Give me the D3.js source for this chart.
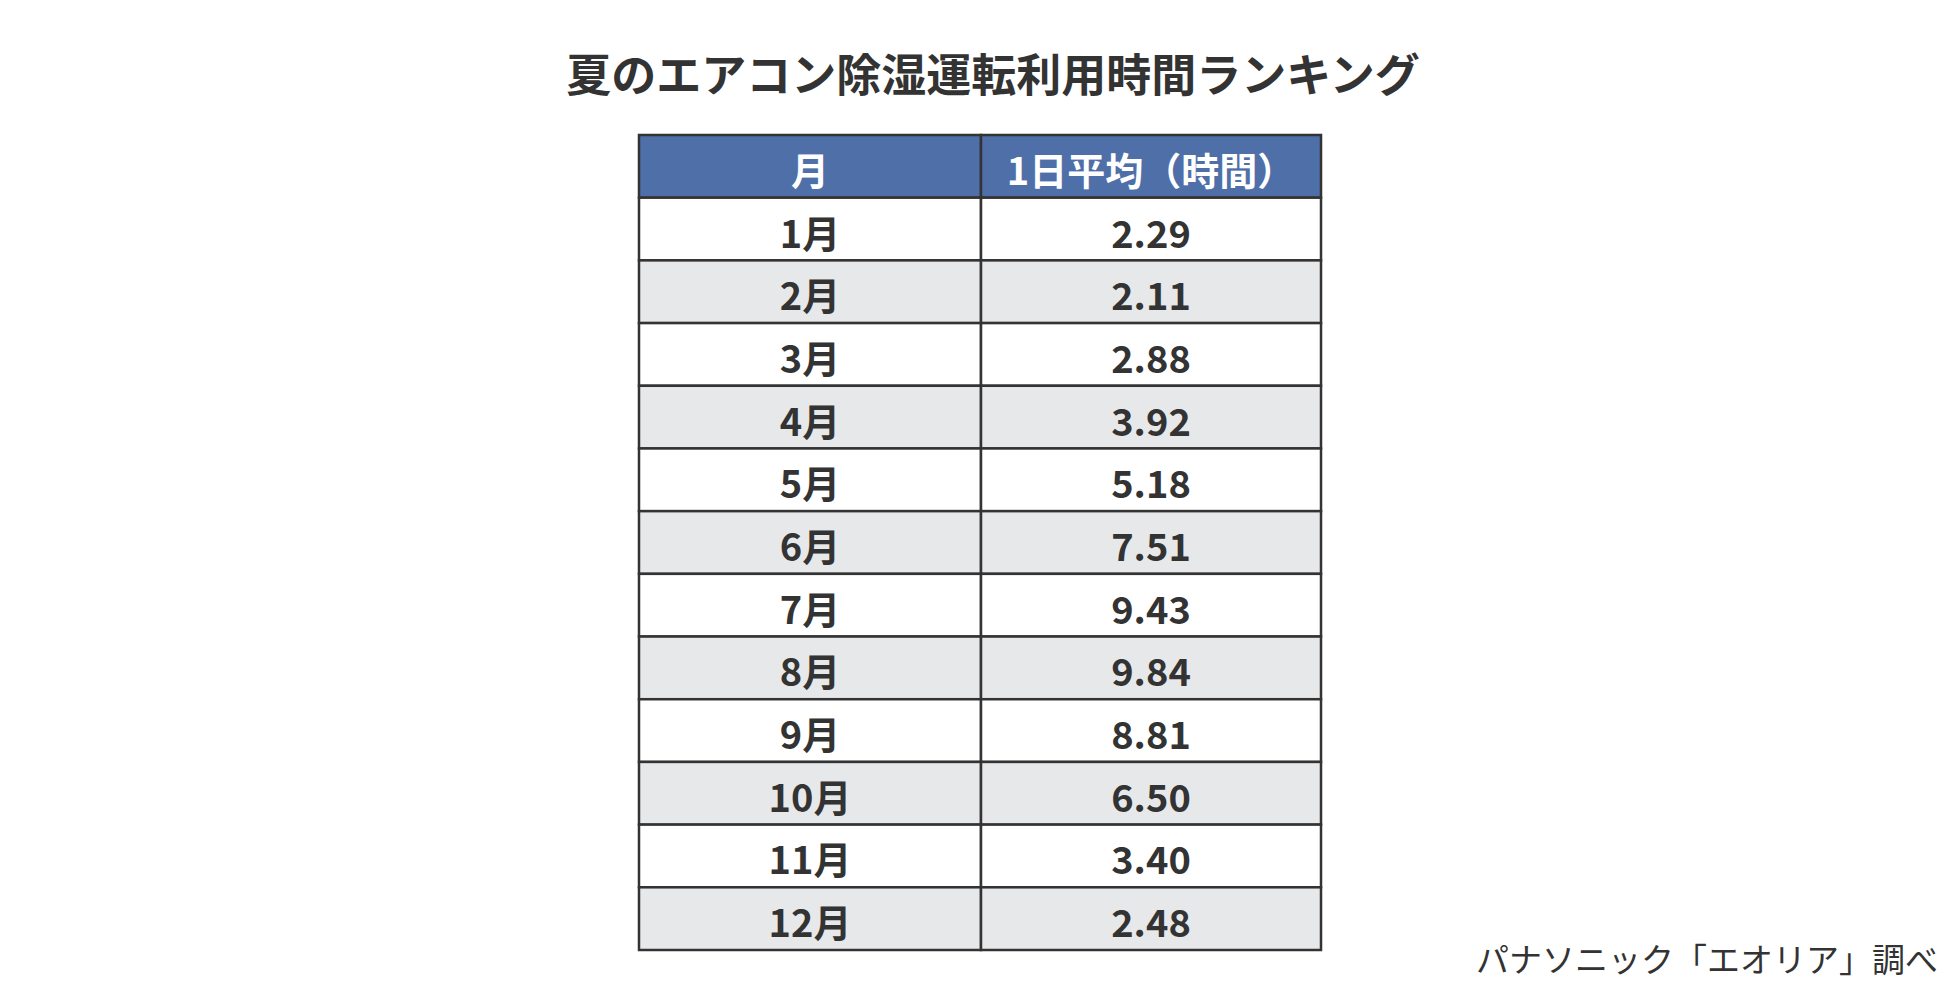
<!DOCTYPE html>
<html><head><meta charset="utf-8">
<script src="https://cdn.jsdelivr.net/npm/d3@7"></script>
<style>body{margin:0;background:#fff}</style></head>
<body><svg id="c" width="1950" height="990"></svg>
<script>
const title = "夏のエアコン除湿運転利用時間ランキング";
const headers = ["月", "1日平均（時間）"];
const months = ["1月","2月","3月","4月","5月","6月","7月","8月","9月","10月","11月","12月"];
const hours = ["2.29","2.11","2.88","3.92","5.18","7.51","9.43","9.84","8.81","6.50","3.40","2.48"];
const source = "パナソニック「エオリア」調べ";

const svg = d3.select("#c");
const font = "'Noto Sans CJK JP', 'Noto Sans', sans-serif";
const x = d3.scaleOrdinal().domain([0,1,2]).range([639, 981, 1321]);
const y = d3.scaleBand().domain(d3.range(13)).range([135, 950]).padding(0);

svg.append("text").attr("x", 993).attr("y", 72).attr("text-anchor","middle")
  .attr("dominant-baseline","central").attr("font-family",font).attr("font-weight",700)
  .attr("font-size",45).attr("fill","#333").text(title);

const rows = [headers].concat(months.map((m,i)=>[m,hours[i]]));
rows.forEach((r,i)=>{
  const fill = i===0 ? "#4f6fa8" : (i%2===1 ? "#ffffff" : "#e7e8ea");
  [0,1].forEach(j=>{
    svg.append("rect").attr("x",x(j)).attr("y",y(i)).attr("width",x(j+1)-x(j)).attr("height",y.bandwidth())
      .attr("fill",fill).attr("stroke","#333").attr("stroke-width",2.5);
    svg.append("text").attr("x",(x(j)+x(j+1))/2).attr("y",y(i)+y.bandwidth()/2+2)
      .attr("text-anchor","middle").attr("dominant-baseline","central")
      .attr("font-family",font).attr("font-weight",700).attr("font-size",38)
      .attr("fill", i===0 ? "#fff" : "#333").text(r[j]);
  });
});

svg.append("text").attr("x",1938).attr("y",958).attr("text-anchor","end")
  .attr("dominant-baseline","central").attr("font-family",font).attr("font-size",33)
  .attr("fill","#333").text(source);
</script></body></html>
